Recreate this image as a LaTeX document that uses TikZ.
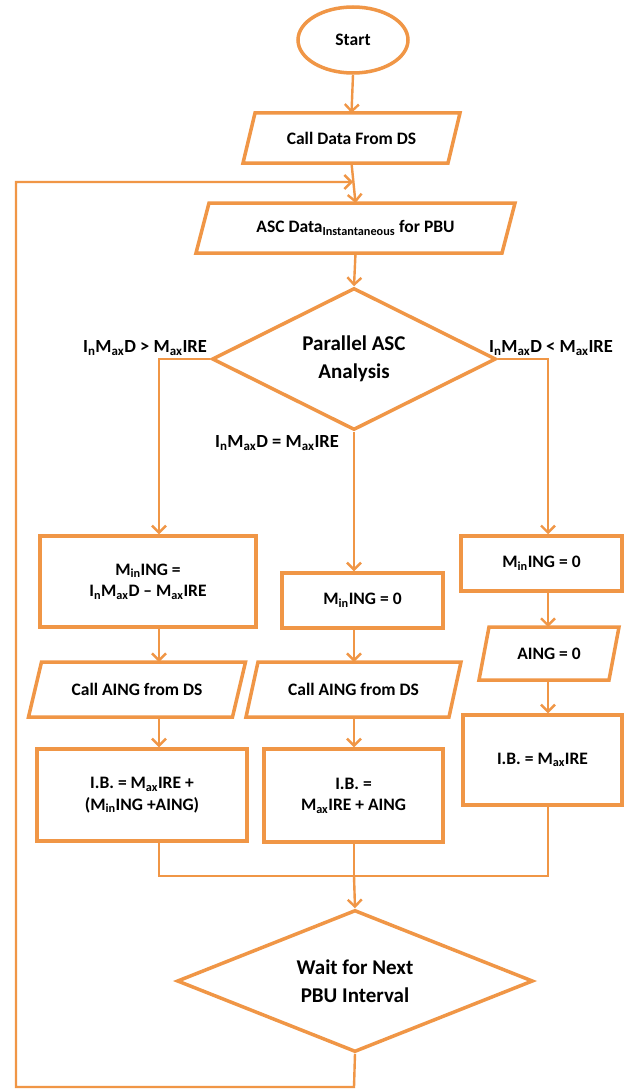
\documentclass[tikz,border=0pt]{standalone}
\usepackage{fontspec}
\setmainfont{Carlito}
\usetikzlibrary{shapes.geometric,arrows.meta}
\definecolor{org}{RGB}{240,150,70}
\newcommand\sbs[1]{\textsubscript{#1}}
% parallelogram: name, cx, cy, half width, half height, half skew, text
\newcommand\paranode[7]{%
  \draw[ln] ({#2-#4+#6},{#3-#5}) -- ({#2+#4+#6},{#3-#5}) -- ({#2+#4-#6},{#3+#5}) -- ({#2-#4-#6},{#3+#5}) -- cycle;
  \node[txt] (#1) at (#2,#3) {#7};
  \coordinate (#1-t) at (#2,{#3-#5});
  \coordinate (#1-b) at (#2,{#3+#5});
}
\begin{document}
\begin{tikzpicture}[x=1pt,y=-1pt,
  ln/.style={draw=org, line width=3.5pt, fill=white, line join=miter},
  txt/.style={font=\fontsize{17.5}{21.5}\selectfont\bfseries, align=center, inner sep=0pt},
  box/.style={ln, txt, rectangle, inner sep=0pt},
  dia/.style={ln, diamond, aspect=2, inner sep=0pt, font=\fontsize{21}{27.5}\selectfont\bfseries, align=center},
  con/.style={draw=org, line width=2.4pt},
  arr/.style={con, -{Straight Barb[length=7pt,width=14pt]}},
  lbl/.style={font=\fontsize{18.5}{22}\selectfont\bfseries, inner sep=0pt}]
\useasboundingbox[fill=white] (0,0) rectangle (631,1089);

\node[ln, ellipse, minimum width=110pt, minimum height=66pt, inner sep=0pt, txt] (start) at (353,40) {Start};
\paranode{call}{351.5}{138}{102.5}{25}{6}{Call Data From DS}
\paranode{asc}{355.5}{228}{153}{25}{6.5}{ASC Data\sbs{Instantaneous} for PBU}

\node[dia, minimum width=284pt, minimum height=142pt] (d1) at (354,359) {Parallel ASC\\Analysis};

\node[lbl] (lL) at (145,348) {I\sbs{n}M\sbs{ax}D > M\sbs{ax}IRE};
\node[lbl] (lR) at (551,348) {I\sbs{n}M\sbs{ax}D < M\sbs{ax}IRE};
\node[lbl] (lM) at (277,443) {I\sbs{n}M\sbs{ax}D = M\sbs{ax}IRE};

% left column
\node[box, minimum width=216pt, minimum height=91pt] (L1) at (148,581.5) {M\sbs{in}ING =\\I\sbs{n}M\sbs{ax}D -- M\sbs{ax}IRE};
\paranode{L2}{137}{689.5}{102}{27.5}{6.5}{Call AING from DS}
\node[box, minimum width=210pt, minimum height=92pt] (L3) at (142,795) {I.B. = M\sbs{ax}IRE +\\(M\sbs{in}ING +AING)};

% middle column
\node[box, minimum width=161pt, minimum height=55pt] (M1) at (362.5,600.5) {M\sbs{in}ING = 0};
\paranode{M2}{353.5}{689.5}{101.5}{27.5}{6}{Call AING from DS}
\node[box, minimum width=179pt, minimum height=93pt] (M3) at (353.5,795.5) {I.B. =\\M\sbs{ax}IRE + AING};

% right column
\node[box, minimum width=161pt, minimum height=55pt] (R1) at (541.5,563.5) {M\sbs{in}ING = 0};
\paranode{R2}{549}{653.5}{65}{26.5}{5}{AING = 0}
\node[box, minimum width=159pt, minimum height=90pt] (R3) at (542.5,760) {I.B. = M\sbs{ax}IRE};

\node[dia, minimum width=356pt, minimum height=142pt] (d2) at (355,981) {Wait for Next\\PBU Interval};

% column axes
\coordinate (xl) at (159,0);
\coordinate (xm) at (354,0);
\coordinate (xr) at (548,0);
\coordinate (merge) at (354,876);
\coordinate (loopB) at (354,1087);
\coordinate (loopBL) at (16,1087);
\coordinate (loopTL) at (16,182);
\coordinate (loopE) at (353,182);

% connectors
\draw[arr] (start.south) -- (call-t);
\draw[arr] (call-b) -- (asc-t);
\draw[arr] (asc-b) -- (d1.north);

\draw[arr] (d1.west) -- (d1.west -| xl) -- (xl |- L1.north);
\draw[arr] (d1.south) -- (xm |- M1.north);
\draw[arr] (d1.east) -- (d1.east -| xr) -- (xr |- R1.north);

\draw[arr] (xl |- L1.south) -- (xl |- L2-t);
\draw[arr] (xl |- L2-b) -- (xl |- L3.north);
\draw[arr] (xm |- M1.south) -- (xm |- M2-t);
\draw[arr] (xm |- M2-b) -- (xm |- M3.north);
\draw[arr] (xr |- R1.south) -- (xr |- R2-t);
\draw[arr] (xr |- R2-b) -- (xr |- R3.north);

\draw[con] (xl |- L3.south) -- (xl |- merge) -- (xr |- merge) -- (xr |- R3.south);
\draw[con] (xm |- M3.south) -- (merge);
\draw[arr] (merge) -- (d2.north);

\draw[arr] (d2.south) -- (loopB) -- (loopBL) -- (loopTL) -- (loopE);
\end{tikzpicture}
\end{document}
